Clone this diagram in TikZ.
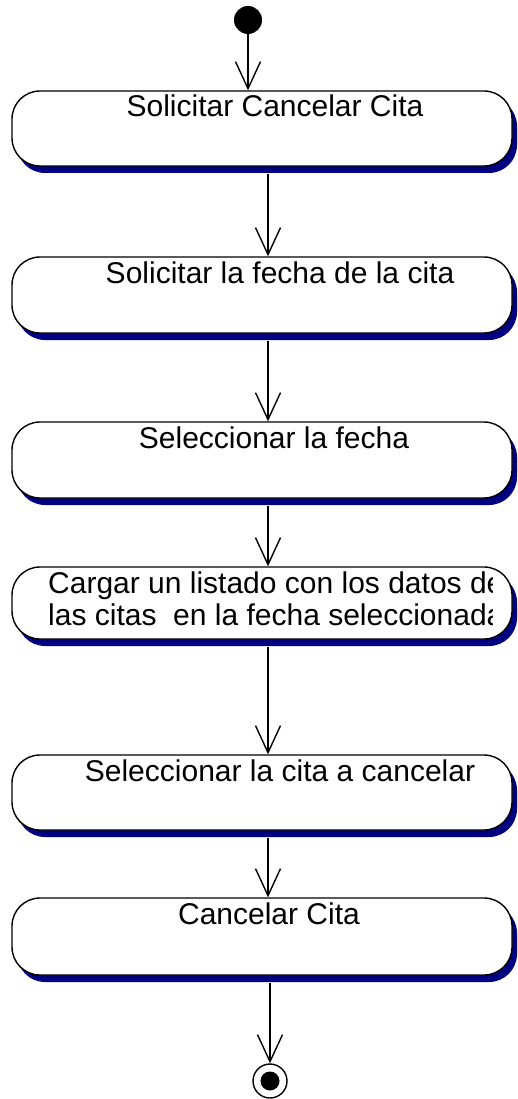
\documentclass[tikz,border=0pt]{standalone}
\usepackage{fontspec}
\setmainfont{Liberation Sans}
\usetikzlibrary{arrows.meta}
\usetikzlibrary{shadows}
\definecolor{navy}{RGB}{0,0,128}

\begin{document}
\begin{tikzpicture}[x=1pt, y=-1pt,
    activity/.style={draw=black, line width=1.4pt, fill=white, rounded corners=28pt,
        minimum width=500pt, inner sep=0pt,
        drop shadow={shadow xshift=5pt, shadow yshift=-7pt, fill=navy, opacity=1}},
    acttext/.style={font=\fontsize{30}{32}\selectfont, inner sep=0pt, anchor=base},
    flow/.style={line width=1.4pt, -{Straight Barb[length=27pt, width=25pt]}, shorten <=7pt}]
    \useasboundingbox (0,0) rectangle (517,1099);
    \clip (0,0) rectangle (517,1099);

    \node[circle, fill=black, minimum size=28pt, inner sep=0pt] (start) at (248,20) {};

    \node[activity, minimum height=75pt] (ask) at (262,128.5) {};
    \node[acttext] (askT) at (275,117) {Solicitar Cancelar Cita};

    \node[activity, minimum height=76pt] (date) at (262,295) {};
    \node[acttext] (dateT) at (280,283) {Solicitar la fecha de la cita};

    \node[activity, minimum height=76pt] (pick) at (262,460) {};
    \node[acttext] (pickT) at (274,448) {Seleccionar la fecha};

    \node[activity, minimum height=72pt] (list) at (262,603) {};
    \begin{scope}
        \clip (12,567) rectangle (492,639);
        \node[acttext, anchor=base west] (listA) at (48,593) {Cargar un listado con los datos de};
        \node[acttext, anchor=base west] (listB) at (48,625) {las citas \ en la fecha seleccionada};
    \end{scope}

    \node[activity, minimum height=75pt] (choose) at (262,792.5) {};
    \node[acttext] (chooseT) at (280,781) {Seleccionar la cita a cancelar};

    \node[activity, minimum height=77pt] (cancel) at (262,936.5) {};
    \node[acttext] (cancelT) at (269,924) {Cancelar Cita};

    \node[circle, draw, line width=1.4pt, minimum size=34pt, inner sep=0pt] (stop) at (270,1081) {};
    \node[circle, fill=black, minimum size=19pt, inner sep=0pt] (stopDot) at (stop) {};

    \draw[flow, shorten <=0pt] (start) -- (start |- ask.north);
    \draw[flow] ([xshift=6pt]ask.south) -- ([xshift=6pt]date.north);
    \draw[flow] ([xshift=6pt]date.south) -- ([xshift=6pt]pick.north);
    \draw[flow] ([xshift=6pt]pick.south) -- ([xshift=6pt]list.north);
    \draw[flow] ([xshift=6pt]list.south) -- ([xshift=6pt]choose.north);
    \draw[flow] ([xshift=6pt]choose.south) -- ([xshift=6pt]cancel.north);
    \draw[flow] (stop |- cancel.south) -- (stop);
\end{tikzpicture}
\end{document}
